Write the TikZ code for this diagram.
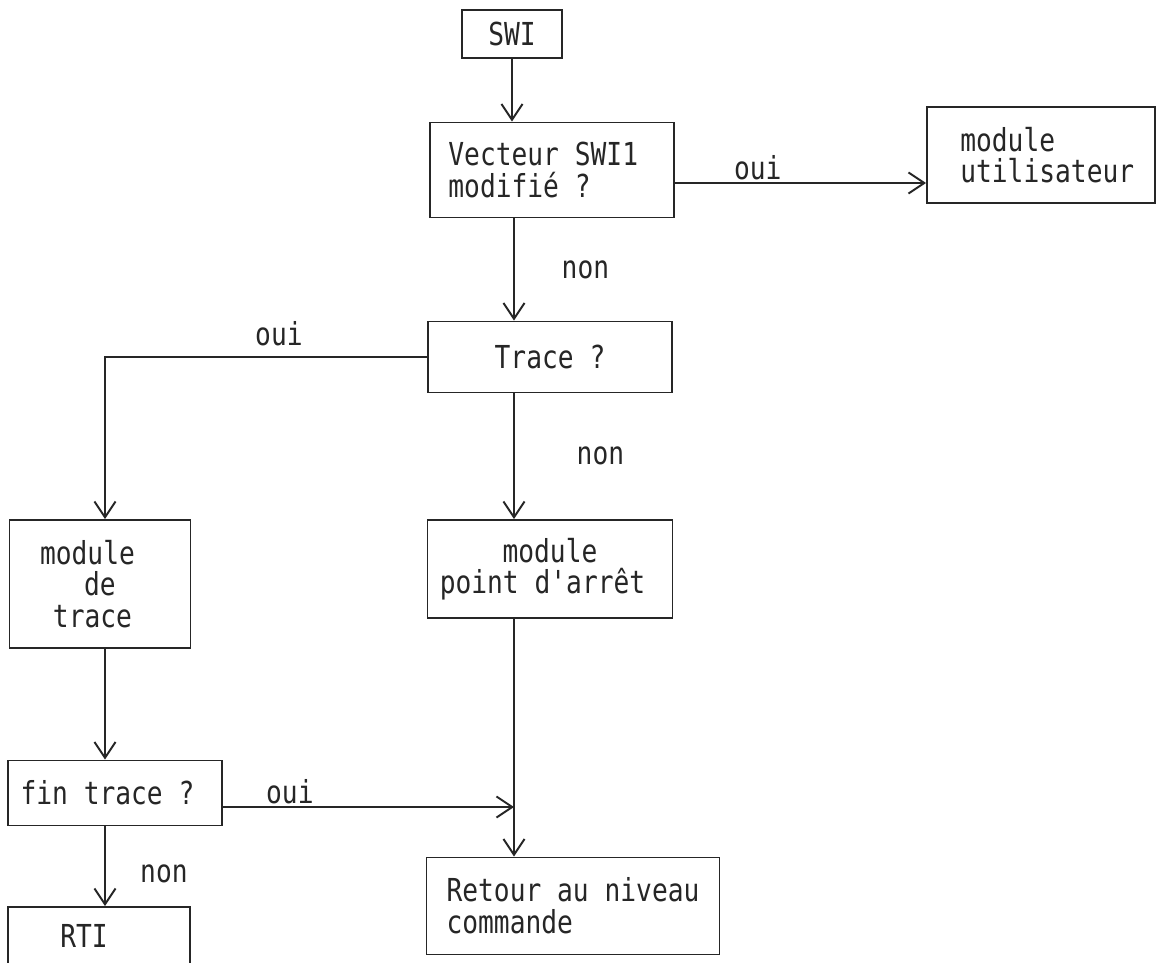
\documentclass[tikz,border=0pt]{standalone}
\usepackage{fontspec}
\setmonofont[FakeStretch=0.83]{DejaVu Sans Mono}
\usepackage{tikz}
\usetikzlibrary{
    arrows.meta,
    calc
}
\definecolor{Ink}{RGB}{38, 38, 38}
\tikzset{
    fbloc/.style={
        rectangle, draw=Ink, line width=1.1pt, fill=white, text=Ink,
        inner sep=0pt, align=center, font=\ttfamily\fontsize{18}{18}\selectfont
    },
    flbl/.style={text=Ink, inner sep=1pt, font=\ttfamily\fontsize{18}{18}\selectfont},
    farr/.style={-{Straight Barb[length=9pt, width=12pt]}, line width=1.1pt, Ink},
}

\begin{document}
\begin{tikzpicture}[x=0.02cm, y=-0.02cm]

    \useasboundingbox [fill=white] (0,0) rectangle (1157,963);
    \clip (0,0) rectangle (1157,963);

    % colonnes des fleches
    \coordinate (cl) at (105,0);
    \coordinate (cr) at (514,0);

    \node [fbloc, minimum width=2.0cm, minimum height=0.96cm]
        (swi) at (512,34) {SWI};
    \node [fbloc, minimum width=4.88cm, minimum height=1.9cm, align=left]
        (vect) at (552,170) {Vecteur SWI1\hspace*{0.35cm}\\modifié ?};
    \node [fbloc, minimum width=4.56cm, minimum height=1.92cm, align=left]
        (util) at (1041,155) {\hspace*{0.25cm}module\\\hspace*{0.25cm}utilisateur};
    \node [fbloc, minimum width=4.88cm, minimum height=1.42cm]
        (trace) at (550,357) {Trace ?};
    \node [fbloc, minimum width=4.9cm, minimum height=1.96cm]
        (arret) at (550,569) {module\\point d'arrêt\hspace*{0.3cm}};
    \node [fbloc, minimum width=3.62cm, minimum height=2.56cm]
        (mtrace) at (100,584) {module\hspace*{0.5cm}\\de\hspace*{0.6cm}\\trace\hspace*{0.3cm}};
    \node [fbloc, minimum width=4.28cm, minimum height=1.3cm]
        (fin) at (115,793) {fin trace ?\hspace*{0.3cm}};
    \node [fbloc, minimum width=3.64cm, minimum height=1.16cm]
        (rti) at (99,936) {RTI\hspace*{0.6cm}};
    \node [fbloc, minimum width=5.86cm, minimum height=1.94cm, align=left]
        (retour) at (573,906) {Retour au niveau\\commande};

    \coordinate (vo) at ($(vect.east)+(0,13)$);
    \coordinate (fo) at ($(fin.east)+(0,14)$);
    \coordinate (jn) at (fo -| cr);

    \draw [farr] (swi.south) -- (vect.north -| swi.south);
    \draw [farr] (vo) -- node (l1) [flbl, above, pos=0.33] {oui} (vo -| util.west);
    \draw [farr] (vect.south -| cr) -- node (l2) [flbl, right=0.9cm] {non} (trace.north -| cr);
    \draw [farr] (trace.west) -- node (l3) [flbl, above=5pt, pos=0.46] {oui} (trace.west -| cl) -- (mtrace.north -| cl);
    \draw [farr] (trace.south -| cr) -- node (l4) [flbl, right=1.2cm] {non} (arret.north -| cr);
    \draw [farr] (mtrace.south -| cl) -- (fin.north -| cl);
    \draw [farr] (fo) -- node (l5) [flbl, above, pos=0.23] {oui} (jn);
    \draw [farr] (arret.south -| cr) -- (retour.north -| cr);
    \draw [farr] (fin.south -| cl) -- node (l6) [flbl, right=0.65cm, pos=0.6] {non} (rti.north -| cl);

\end{tikzpicture}
\end{document}
